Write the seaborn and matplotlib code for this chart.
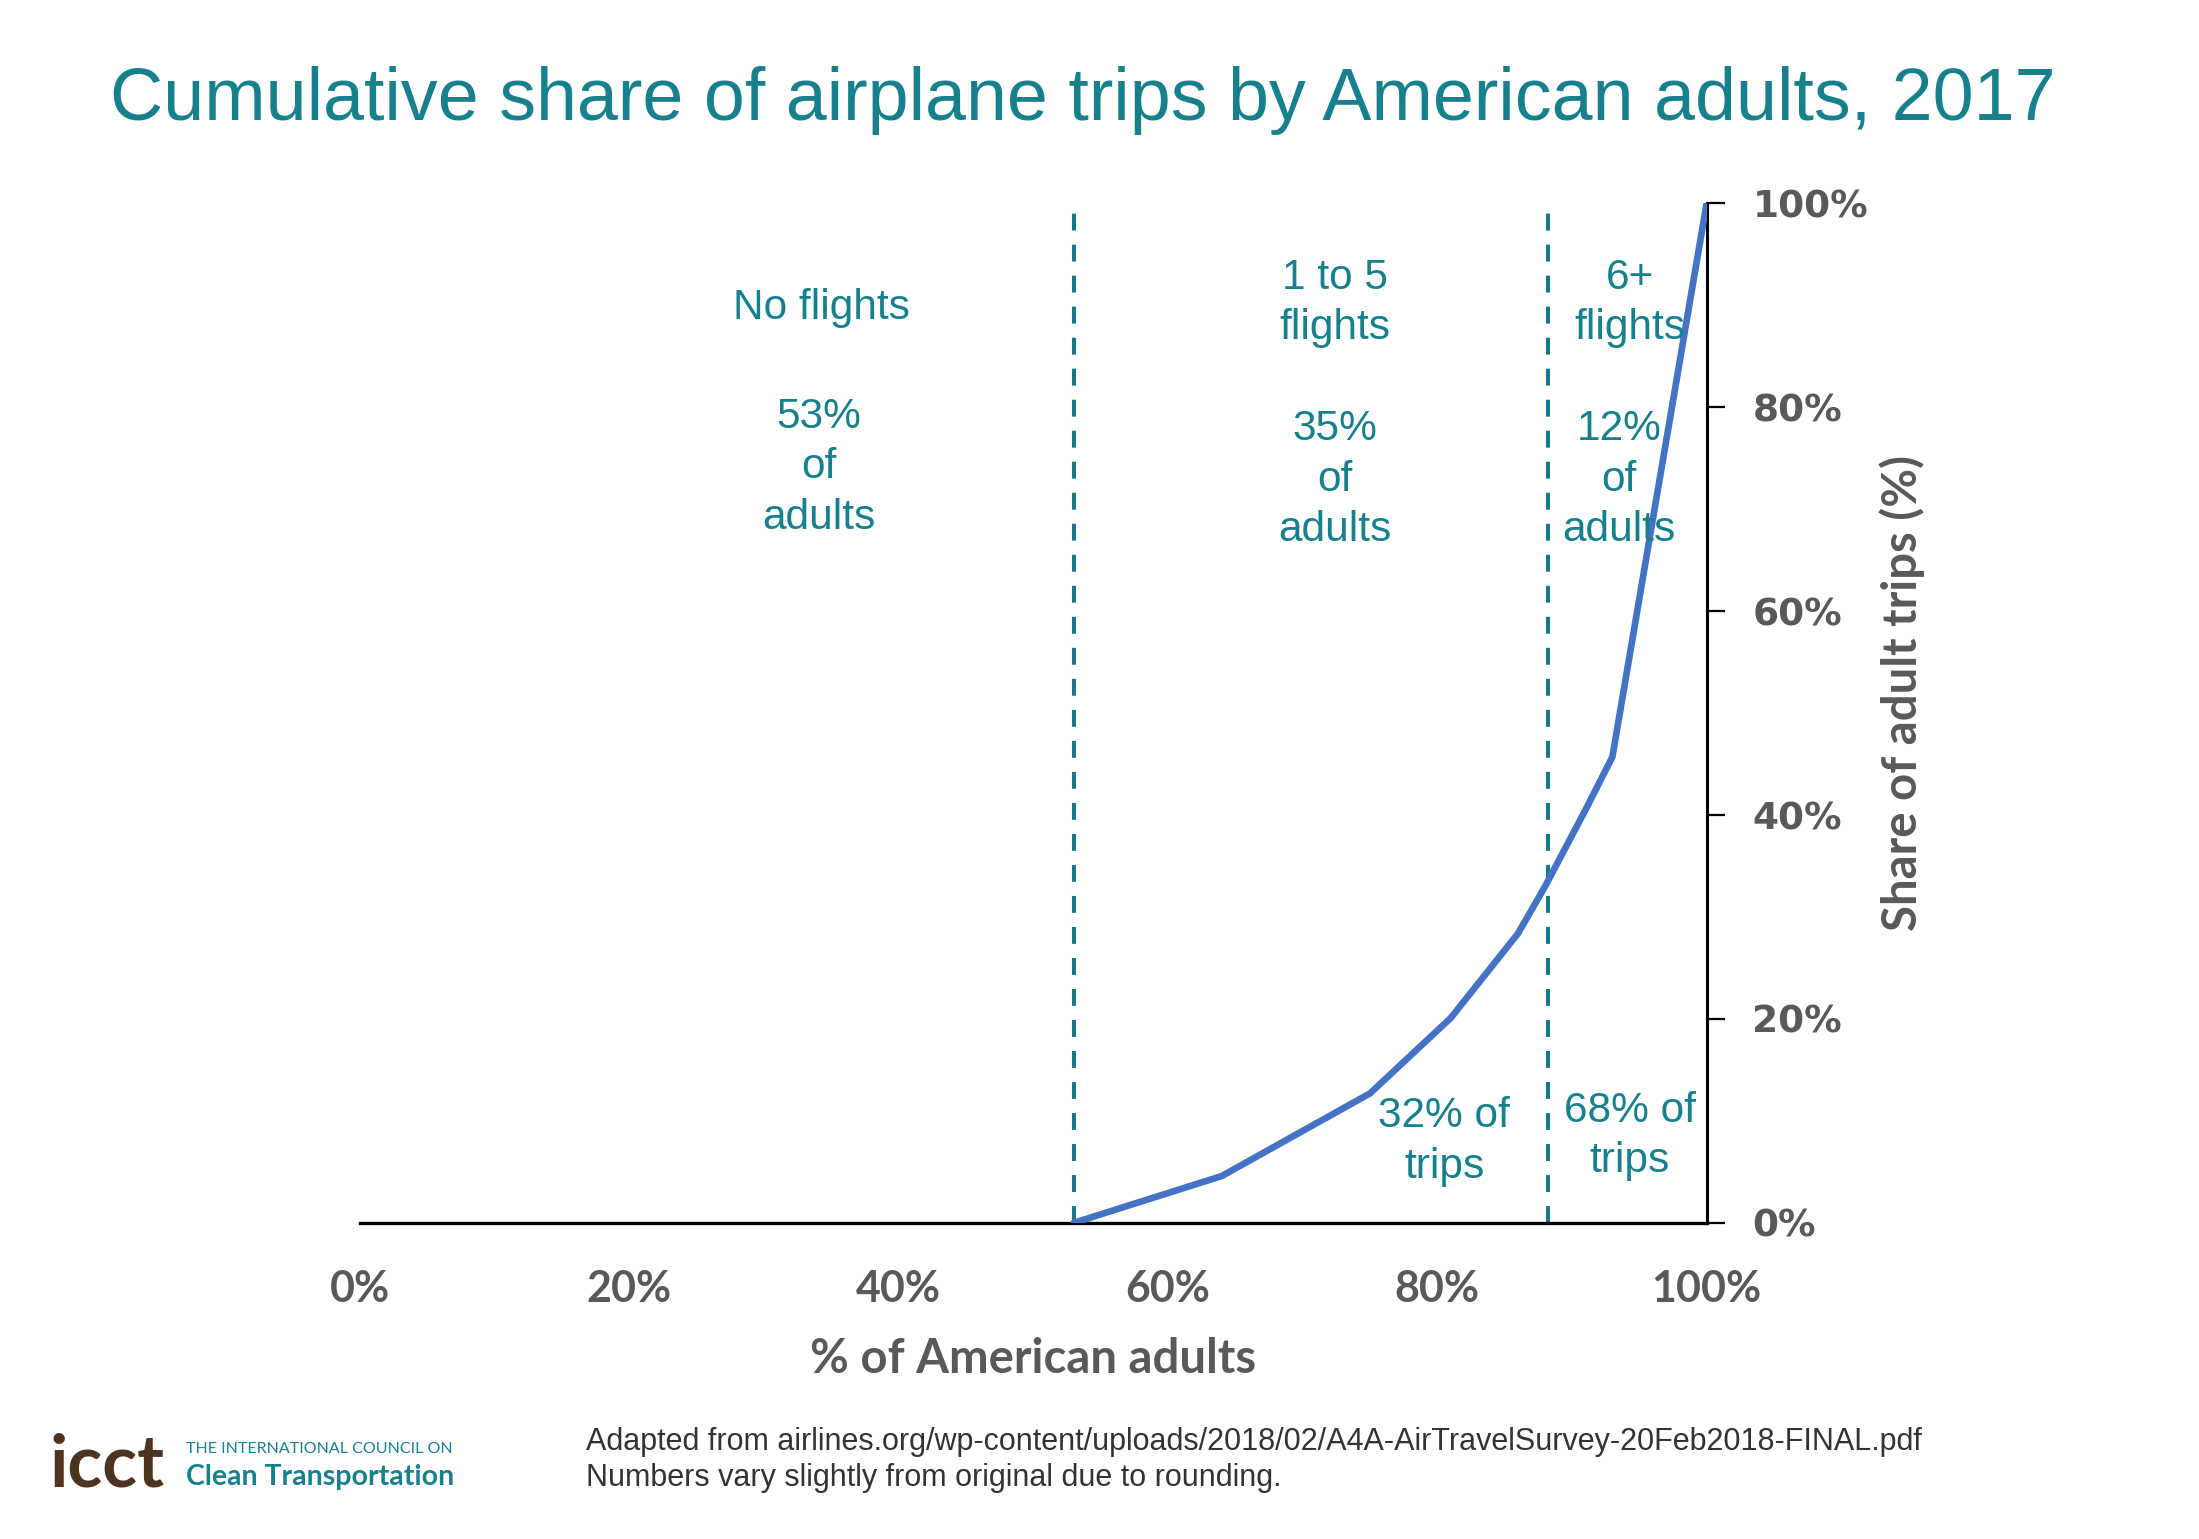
import matplotlib
matplotlib.use("Agg")
import matplotlib.pyplot as plt
import seaborn as sns
import pandas as pd

# cumulative curve
adults_pct = [53, 64, 75, 81, 86, 88, 91, 93, 100]
trips_pct = [0, 4.6, 12.7, 20.1, 28.4, 33, 40.5, 45.7, 100]

# group boundaries (no flights | 1 to 5 | 6+)
boundaries = [53, 88.2]

x_ticks = [0, 20, 40, 60, 80, 100]
y_ticks = [0, 20, 40, 60, 80, 100]

group_labels = ["No flights", "1 to 5\nflights", "6+\nflights"]
adult_labels = ["53%\nof\nadults", "35%\nof\nadults", "12%\nof\nadults"]
trip_labels = ["32% of\ntrips", "68% of\ntrips"]

teal = "#16808d"
dash_teal = "#15798b"
gray = "#595959"
blue = "#4472c4"

sns.set_style("white")
plt.rcParams["font.family"] = ["Liberation Sans", "DejaVu Sans"]

df = pd.DataFrame({"adults": adults_pct, "trips": trips_pct})

fig = plt.figure(figsize=(21.99, 15.39), dpi=100)
ax = fig.add_axes([0.1637, 0.2054, 0.6124, 0.6625])

sns.lineplot(data=df, x="adults", y="trips", ax=ax, color=blue, lw=4.8, zorder=3)

for b in boundaries:
    ax.plot([b, b], [0, 99], color=dash_teal, lw=2.9, dashes=(4.2, 3.5), zorder=2)

ax.set_xlim(0, 100)
ax.set_ylim(0, 100)

ax.spines["left"].set_visible(False)
ax.spines["top"].set_visible(False)
ax.spines["right"].set_linewidth(2.2)
ax.spines["bottom"].set_linewidth(2.4)
ax.spines["right"].set_color("black")
ax.spines["bottom"].set_color("black")

ax.yaxis.tick_right()
ax.set_xticks(x_ticks)
ax.set_yticks(y_ticks)
ax.set_xticklabels([f"{v}%" for v in x_ticks], fontsize=31, fontweight="bold",
                   color=gray, family="Lato")
ax.set_yticklabels([f"{v}%" for v in y_ticks], fontsize=27, fontweight="bold",
                   color=gray, family="DejaVu Sans")
ax.tick_params(axis="x", length=0, pad=33)
ax.tick_params(axis="y", direction="out", length=13, width=1.6, color="black", pad=20,
               right=True, left=False)

ax.set_xlabel("% of American adults", fontsize=34, fontweight="bold", color=gray,
              family="Lato", labelpad=20)
ax.yaxis.set_label_position("right")
ax.set_ylabel("Share of adult trips (%)", fontsize=34, fontweight="bold", color=gray,
              family="Lato", rotation=90)
ax.yaxis.set_label_coords(1.128, 0.52)

# annotations
txt = dict(color=teal, fontsize=30.5, ha="center", va="center", linespacing=1.34)
ax.text(34.3, 89.7, group_labels[0], **txt)
ax.text(72.4, 90.2, group_labels[1], **txt)
ax.text(94.3, 90.2, group_labels[2], **txt)
ax.text(34.1, 74.1, adult_labels[0], **txt)
ax.text(72.4, 72.9, adult_labels[1], **txt)
ax.text(93.5, 72.9, adult_labels[2], **txt)
ax.text(80.5, 8.0, trip_labels[0], **txt)
ax.text(94.3, 8.5, trip_labels[1], **txt)

fig.text(0.4924, 0.935, "Cumulative share of airplane trips by American adults, 2017",
         ha="center", va="center", fontsize=53, color=teal)

# footer
fig.text(0.2666, 0.0632,
         "Adapted from airlines.org/wp-content/uploads/2018/02/A4A-AirTravelSurvey-20Feb2018-FINAL.pdf",
         ha="left", va="center", fontsize=22, color="#333333")
fig.text(0.2666, 0.0395, "Numbers vary slightly from original due to rounding.",
         ha="left", va="center", fontsize=22, color="#333333")

fig.text(0.0223, 0.034, "icct", ha="left", va="baseline", fontsize=52,
         fontweight="bold", color="#4e3320", family="Lato")
fig.text(0.0848, 0.0587, "THE INTERNATIONAL COUNCIL ON", ha="left", va="center",
         fontsize=11.5, color=teal, family="Lato")
fig.text(0.0848, 0.0405, "Clean Transportation", ha="left", va="center",
         fontsize=20.5, fontweight="bold", color=teal, family="Lato")

fig.savefig("out.png", dpi=100, facecolor="white")
